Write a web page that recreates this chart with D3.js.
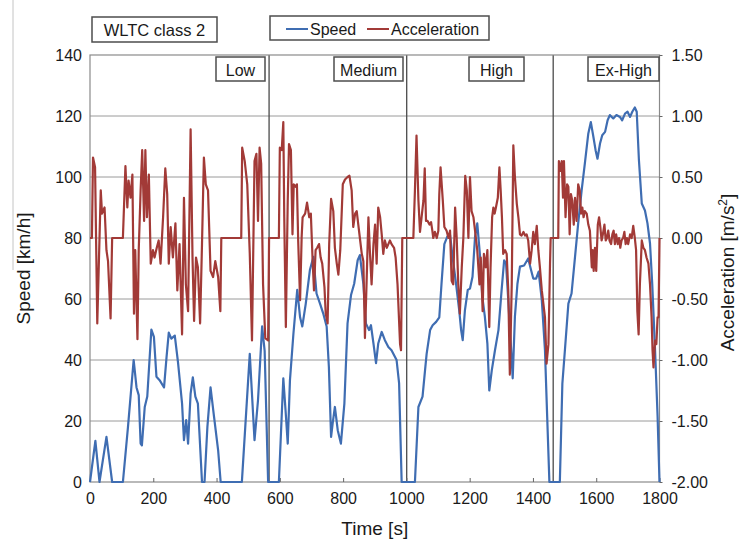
<!DOCTYPE html>
<meta charset="utf-8">
<style>
body { margin: 0; background: #fff; }
svg text { font-family: "Liberation Sans", Arial, sans-serif; fill: #1a1a1a; }
.axis path { display: none; }
.axis line { stroke: #666; }
.grid line { stroke: #9a9a9a; stroke-width: 1; }
.frame { fill: none; stroke: #8a8a8a; stroke-width: 1.2; }
.phase { stroke: #4a4a4a; stroke-width: 1.3; }
.box { fill: #fff; stroke: #4d4d4d; stroke-width: 1.5; }
</style>
<svg width="739" height="543" id="chart"></svg>
<script src="https://d3js.org/d3.v7.min.js"></script>
<script>
// WLTC class 2, [time s, value]
var speedData = [
  [0,0],[17,13.5],[30,0],[52,14.8],[70,0],[104,0],[120,18],[138,40],[147,31],[154,28.5],[160,12.6],[164,12],
  [173,24.6],[181,28],[194,50],[202,47.6],[210,34.5],[220,33.4],[234,31],[242,41],[249,49],[257,47],[268,48],
  [278,39.4],[291,25.7],[297,13.7],[304,20.3],[310,12.6],[318,29],[325,34.3],[333,28],[341,25.7],[354,0],[362,0],
  [371,18],[381,31],[392,21.4],[405,10.4],[413,0],[480,0],[505,42],[520,13.7],[531,26.8],[544,51],[552,43],[563,0],
  [597,0],[611,34],[618,23.6],[625,12.6],[632,33.4],[643,48.7],[655,63],[664,54],[671,51],[682,58.5],[695,69.5],
  [706,73.8],[716,61.8],[727,58.5],[737,55.3],[748,51],[755,37.8],[762,14.8],[767,19.2],[774,24.6],[783,17],
  [793,12.6],[804,25.7],[814,52],[825,61.3],[835,65],[846,72.7],[853,74.4],[864,65],[872,52],[882,49.8],[888,51.4],
  [896,45.4],[904,39],[911,45.4],[922,49.2],[932,46.5],[943,44.3],[953,43.2],[969,40],[977,32.3],[985,0],
  [1027,0],[1038,24.6],[1051,28],[1059,36.7],[1064,42],[1075,49.8],[1083,51.4],[1094,52.5],[1104,54],[1111,65],
  [1120,78],[1129,80.4],[1138,81],[1146,73.8],[1157,65],[1167,56.3],[1173,49.8],[1178,46.5],[1185,56.3],[1194,63],
  [1201,63.4],[1209,67.3],[1217,80.4],[1224,84.8],[1233,73.8],[1240,60.7],[1248,54.2],[1256,45.4],[1262,30],
  [1270,36.7],[1280,43.2],[1291,49.8],[1301,63],[1309,72.7],[1315,71.6],[1322,59.6],[1330,45.4],[1336,34],
  [1343,54.2],[1351,65],[1359,70.6],[1372,71],[1385,73.3],[1394,69.5],[1401,66.7],[1410,66.7],[1418,69],
  [1428,59.6],[1438,43.2],[1445,21.4],[1452,0],[1485,0],
  [1493,32.3],[1501,43.2],[1512,58.5],[1522,61.8],[1533,73.8],[1543,84.8],[1554,95.7],[1564,104.4],[1575,114.3],
  [1583,118],[1591,113.2],[1598,108.8],[1604,106],[1612,111],[1619,113.7],[1628,114.8],[1636,118.6],[1643,120.3],
  [1654,119.2],[1664,120.3],[1675,119.7],[1682,118.6],[1691,120.8],[1699,121.4],[1707,119.7],[1714,121.4],
  [1722,122.8],[1728,121.4],[1735,105.5],[1744,91.3],[1754,89],[1762,84.8],[1770,78.2],[1777,65],[1786,43.2],
  [1794,21.4],[1800,0]
];

var accelData = [
  [0,0],[6,0],[9.5,0.66],[16,0.58],[23,-0.7],[34,0.39],[38,0.2],[46,0.25],[52,-0.1],[57,-0.19],[65,-0.66],[70,0],
  [104,0],[112,0.59],[118,0.25],[122,0.47],[128,0.33],[134,0.52],[139,-0.62],[143,-0.1],[150,-0.83],[154,-0.1],
  [160,0.39],[165,0.72],[171,0.14],[175,0.72],[180,0.17],[186,0.52],[192,-0.21],[199,-0.1],[204,-0.16],[211,-0.08],
  [217,-0.02],[223,-0.21],[231,0.17],[238,0.57],[244,0.36],[249,-0.21],[255,0.09],[262,-0.16],[270,0.12],[276,-0.43],
  [283,-0.05],[291,-0.79],[297,0.33],[303,-0.38],[310,-0.6],[318,0.89],[324,-0.16],[329,-0.68],[335,-0.16],
  [341,-0.24],[348,-0.7],[354,-0.05],[360,0.66],[366,0.44],[373,0.39],[381,-0.27],[389,-0.32],[396,-0.19],
  [405,-0.32],[412,-0.6],[415,0],[478,0],[481,0.74],[489,0.63],[497,0.44],[505,-0.13],[512,-0.84],[520,0.63],
  [526,0.69],[531,0.14],[536,0.74],[541,0.61],[547,-0.38],[554,-0.82],[563,-0.84],[566,0],
  [597,0],[600,0.74],[606,0.72],[611,0.95],[614,0.17],[619,-0.73],[625,0.31],[629,0.77],[635,0.72],[640,0.03],
  [644,0.44],[650,0.42],[654,0.44],[658,-0.02],[664,-0.51],[669,0.01],[672,0.17],[680,0.2],[686,0.29],[693,0.17],
  [698,0.2],[704,-0.21],[708,-0.43],[713,-0.1],[718,-0.08],[724,-0.05],[729,-0.16],[734,-0.21],[741,-0.4],
  [745,-0.62],[751,-0.7],[756,-0.05],[762,0.32],[769,0.22],[774,-0.08],[780,-0.21],[785,-0.3],[791,-0.1],[799,0.44],
  [806,0.48],[814,0.5],[820,0.51],[827,0.39],[832,0.09],[838,0.2],[843,0.22],[848,0.11],[853,0],[859,-0.13],
  [864,-0.19],[869,-0.82],[874,-0.38],[880,0.17],[885,-0.13],[890,-0.38],[896,-0.05],[901,0.11],[906,-0.21],
  [911,0.25],[917,0.17],[922,0.03],[927,-0.13],[932,-0.02],[938,-0.08],[943,-0.05],[948,-0.02],[953,-0.05],
  [961,-0.08],[966,-0.16],[972,-0.38],[980,-0.87],[983,-0.92],[987,0],
  [1022,0],[1027,0.39],[1032,0.84],[1038,0.31],[1043,0.05],[1048,0.17],[1054,0.31],[1058,0.57],[1062,0.14],
  [1067,0.14],[1073,0.11],[1078,0.13],[1082,0.06],[1085,0],[1090,0.05],[1096,0],[1101,0.06],[1104,0.36],[1108,0.58],
  [1115,0.31],[1120,0.09],[1127,0.06],[1133,0],[1138,0.06],[1143,-0.35],[1148,-0.38],[1154,0.25],[1159,0],
  [1164,-0.38],[1169,-0.62],[1175,-0.24],[1180,0],[1186,0.51],[1191,0.39],[1196,0],[1201,0.5],[1206,0.22],
  [1212,0.17],[1217,0.06],[1224,-0.1],[1231,-0.38],[1235,-0.16],[1241,-0.6],[1245,-0.13],[1251,-0.24],[1256,-0.1],
  [1262,-0.73],[1266,-0.24],[1271,0.17],[1275,0.25],[1279,0.2],[1283,0.25],[1289,0.33],[1294,0.58],[1298,0.39],
  [1302,0.17],[1306,-0.13],[1312,-0.1],[1317,-0.13],[1322,-0.43],[1327,-1.12],[1333,-0.38],[1338,0.76],[1343,0.5],
  [1349,0.28],[1354,0.17],[1359,0.03],[1364,0.02],[1370,0.05],[1375,0.02],[1380,0.03],[1385,-0.02],[1391,-0.21],
  [1396,-0.1],[1401,0.05],[1406,-0.05],[1412,0.1],[1417,-0.1],[1422,-0.24],[1428,-0.43],[1433,-0.54],[1438,-0.65],
  [1443,-1.03],[1449,-0.87],[1454,-0.21],[1456,0],
  [1480,0],[1482,0.63],[1487,0.55],[1491,0.63],[1495,0.33],[1498,0.63],[1503,0.17],[1508,0.44],[1512,0.42],
  [1516,0.03],[1520,0.36],[1524,0.31],[1529,0.11],[1533,0.33],[1538,0.14],[1543,0.44],[1548,0.39],[1552,0.2],
  [1556,0.25],[1560,0.17],[1564,0.22],[1570,0.2],[1575,0.11],[1580,0.06],[1586,-0.24],[1589,-0.1],[1592,-0.27],
  [1596,-0.08],[1600,-0.27],[1605,0.11],[1609,0.17],[1613,0.09],[1617,-0.02],[1621,0.03],[1626,0.11],[1630,-0.02],
  [1634,0],[1638,0.06],[1642,-0.02],[1647,-0.05],[1651,0.03],[1655,0.06],[1659,-0.05],[1663,0.03],[1668,-0.05],
  [1672,0],[1676,-0.08],[1680,-0.02],[1685,0],[1689,0.05],[1693,-0.05],[1697,0],[1701,-0.05],[1707,0.03],
  [1712,0],[1717,0.1],[1722,0],[1726,-0.1],[1730,-0.6],[1734,-0.79],[1738,-0.38],[1744,-0.02],[1749,-0.08],
  [1754,-0.1],[1759,-0.16],[1765,-0.21],[1770,-0.38],[1775,-0.65],[1778,-0.92],[1781,-1.06],[1786,-0.84],
  [1790,-0.87],[1794,-0.65],[1797,-0.65],[1800,0]
];

var phaseNames = ["Low", "Medium", "High", "Ex-High"];
var phaseBounds = [566, 1001, 1464];

var timeTicks = [0, 200, 400, 600, 800, 1000, 1200, 1400, 1600, 1800];
var speedTicks = [0, 20, 40, 60, 80, 100, 120, 140];
var accelTicks = [-2, -1.5, -1, -0.5, 0, 0.5, 1, 1.5];
var accelTickLabels = ["-2.00", "-1.50", "-1.00", "-0.50", "0.00", "0.50", "1.00", "1.50"];

var svg = d3.select("#chart"),
    margin = {top: 55, right: 79.5, bottom: 61, left: 90},
    width = +svg.attr("width"),
    height = +svg.attr("height");

var x = d3.scaleLinear().domain([0, 1800]).range([margin.left, width - margin.right]);
var y = d3.scaleLinear().domain([0, 140]).range([height - margin.bottom, margin.top]);
var y2 = d3.scaleLinear().domain([-2, 1.5]).range([height - margin.bottom, margin.top]);

// stray frame line at far left of the scanned figure
svg.append("line")
    .attr("x1", 13).attr("x2", 13).attr("y1", 0).attr("y2", 270)
    .attr("stroke", "#c4c4c4").attr("stroke-width", 1);

// horizontal grid
svg.append("g").attr("class", "grid")
  .selectAll("line")
  .data(speedTicks.slice(1, -1))
  .enter().append("line")
    .attr("x1", x(0)).attr("x2", x(1800))
    .attr("y1", d => y(d)).attr("y2", d => y(d));

// phase separators
svg.append("g")
  .selectAll("line")
  .data(phaseBounds)
  .enter().append("line")
    .attr("class", "phase")
    .attr("x1", d => x(d)).attr("x2", d => x(d))
    .attr("y1", y(140)).attr("y2", y(0));

svg.append("rect").attr("class", "frame")
    .attr("x", x(0)).attr("y", y(140))
    .attr("width", x(1800) - x(0)).attr("height", y(0) - y(140));

// axes
svg.append("g").attr("class", "axis")
    .attr("transform", `translate(0,${y(0)})`)
    .call(d3.axisBottom(x).tickValues(timeTicks).tickFormat(d3.format("d"))
      .tickSizeInner(-4).tickSizeOuter(0).tickPadding(11))
    .call(g => g.selectAll("text").attr("font-size", 16).attr("font-family", null));

svg.append("g").attr("class", "axis")
    .attr("transform", `translate(${x(0)},0)`)
    .call(d3.axisLeft(y).tickValues(speedTicks).tickSize(0).tickPadding(8))
    .call(g => g.selectAll("text").attr("font-size", 16).attr("font-family", null));

svg.append("g").attr("class", "axis")
    .attr("transform", `translate(${x(1800)},0)`)
    .call(d3.axisRight(y2).tickValues(accelTicks).tickSize(3).tickPadding(9)
      .tickFormat((d, i) => accelTickLabels[i]))
    .call(g => g.selectAll("text").attr("font-size", 16).attr("font-family", null));

// axis titles
svg.append("text")
    .attr("x", (x(0) + x(1800)) / 2).attr("y", 535)
    .attr("text-anchor", "middle").attr("font-size", 19)
    .text("Time [s]");

svg.append("text")
    .attr("transform", `translate(30,${(y(0) + y(140)) / 2}) rotate(-90)`)
    .attr("text-anchor", "middle").attr("font-size", 19)
    .text("Speed [km/h]");

var accTitle = svg.append("text")
    .attr("transform", `translate(734,${(y(0) + y(140)) / 2 + 4}) rotate(-90)`)
    .attr("text-anchor", "middle").attr("font-size", 19);
accTitle.append("tspan").text("Acceleration [m/s");
accTitle.append("tspan").attr("font-size", 12).attr("dy", -7).text("2");
accTitle.append("tspan").attr("dy", 7).text("]");

// series
var speedLine = d3.line().x(d => x(d[0])).y(d => y(d[1]));
var accelLine = d3.line().x(d => x(d[0])).y(d => y2(d[1]));

svg.append("path").datum(speedData)
    .attr("fill", "none").attr("stroke", "#3f6db2").attr("stroke-width", 2.2)
    .attr("stroke-linejoin", "round")
    .attr("d", speedLine);

svg.append("path").datum(accelData)
    .attr("fill", "none").attr("stroke", "#a23a37").attr("stroke-width", 2.2)
    .attr("stroke-linejoin", "round")
    .attr("d", accelLine);

// phase label boxes (right edge in px)
var labelRight = [265, 403, 524, 659];
var labelWidth = [49, 69, 55, 71];
phaseNames.forEach(function(name, i) {
  var g = svg.append("g");
  g.append("rect").attr("class", "box")
    .attr("x", labelRight[i] - labelWidth[i]).attr("y", 57)
    .attr("width", labelWidth[i]).attr("height", 24);
  g.append("text")
    .attr("x", labelRight[i] - labelWidth[i] / 2).attr("y", 76)
    .attr("text-anchor", "middle").attr("font-size", 16)
    .text(name);
});

// title box
svg.append("rect").attr("class", "box")
    .attr("x", 92).attr("y", 17).attr("width", 125).attr("height", 25);
svg.append("text")
    .attr("x", 154.5).attr("y", 36)
    .attr("text-anchor", "middle").attr("font-size", 16.5)
    .text("WLTC class 2");

// legend
svg.append("rect").attr("class", "box")
    .attr("x", 270).attr("y", 16).attr("width", 219).attr("height", 24);
var legend = [
  {name: "Speed", color: "#3f6db2", x0: 286},
  {name: "Acceleration", color: "#a23a37", x0: 367}
];
legend.forEach(function(d) {
  svg.append("line")
    .attr("x1", d.x0).attr("x2", d.x0 + 22).attr("y1", 29).attr("y2", 29)
    .attr("stroke", d.color).attr("stroke-width", 2);
  svg.append("text")
    .attr("x", d.x0 + 24).attr("y", 35).attr("font-size", 16)
    .text(d.name);
});
</script>
